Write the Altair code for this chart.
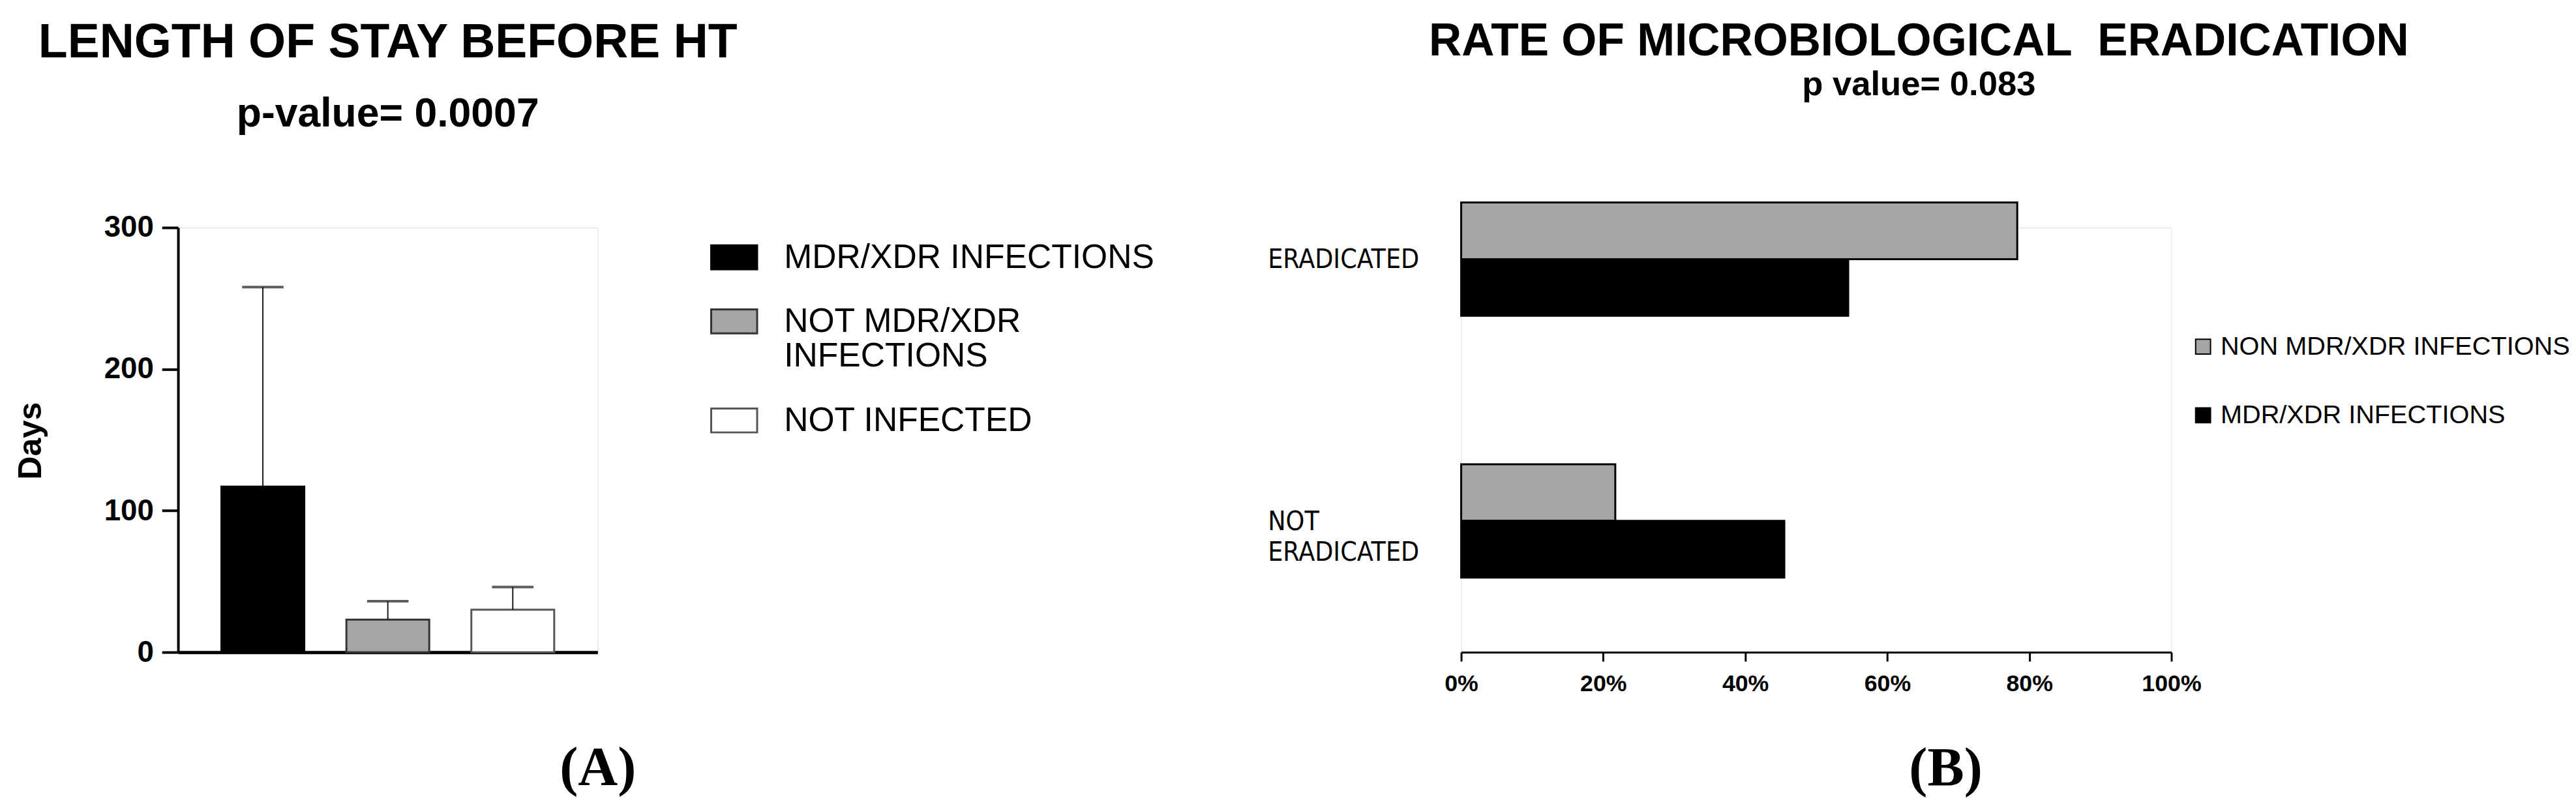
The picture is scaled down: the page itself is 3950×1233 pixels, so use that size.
import altair as alt
import pandas as pd

# ---------------- Panel A data ----------------
groups_a = ["MDR/XDR INFECTIONS", "NOT MDR/XDR INFECTIONS", "NOT INFECTED"]
mean_days = [117, 23, 30]
sd_days = [141, 13, 16]
fills_a = ["#000000", "#a5a5a5", "#ffffff"]
strokes_a = ["#000000", "#333333", "#555555"]
ticks_a = [0, 100, 200, 300]

# ---------------- Panel B data ----------------
outcomes_b = ["ERADICATED", "NOT ERADICATED"]
series_b = ["NON MDR/XDR INFECTIONS", "MDR/XDR INFECTIONS"]
non_mdr_b = [0.783, 0.217]
mdr_b = [0.545, 0.455]
fills_b = ["#a5a5a5", "#000000"]
ticks_b = [0, 0.2, 0.4, 0.6, 0.8, 1.0]

SANS = "Liberation Sans, Arial, sans-serif"
SERIF = "Liberation Serif, Times New Roman, serif"
COND = "DejaVu Sans Condensed, DejaVu Sans, sans-serif"

df_a = pd.DataFrame({"group": groups_a, "mean": mean_days, "sd": sd_days})
df_a["upper"] = df_a["mean"] + df_a["sd"]

rows = []
for i, o in enumerate(outcomes_b):
    rows.append({"outcome": o, "series": series_b[0], "value": non_mdr_b[i]})
    rows.append({"outcome": o, "series": series_b[1], "value": mdr_b[i]})
df_b = pd.DataFrame(rows)

PLOT_H = 656

# ---------------- Panel A ----------------
leg_a = alt.Legend(
    title=None, orient="none", legendX=822, legendY=9, padding=0,
    symbolType="M-1,-0.52H1V0.52H-1Z", symbolSize=5041, symbolStrokeWidth=3,
    labelFont=SANS, labelFontSize=52, labelColor="black", labelOffset=40,
    labelLimit=1000, rowPadding=36,
    labelExpr="datum.label == 'NOT MDR/XDR INFECTIONS' ? ['NOT MDR/XDR', 'INFECTIONS'] : datum.label",
)

x_a = alt.X(
    "group:N", sort=groups_a,
    scale=alt.Scale(paddingInner=0.337, paddingOuter=0.347),
    axis=alt.Axis(
        labels=False, ticks=False, domainWidth=5, domainColor="black",
        title="(A)", titleFont=SERIF, titleFontSize=85, titleFontWeight="bold",
        titleColor="black", titleX=648, titleY=205, titleBaseline="alphabetic",
        titleAlign="center",
    ),
)
y_a = alt.Y(
    "mean:Q", scale=alt.Scale(domain=[0, 300], nice=False),
    axis=alt.Axis(
        values=ticks_a, grid=False,
        title="Days", titleFont=SANS, titleFontSize=50, titleFontWeight="bold",
        titleColor="black", titleX=-212, titleY=329, titleBaseline="alphabetic",
        titleAngle=270, titleAlign="center",
        labelFont=SANS, labelFontSize=46, labelFontWeight="bold", labelColor="black",
        labelPadding=13, tickSize=25, tickWidth=4, tickColor="black",
        domainWidth=4, domainColor="black",
    ),
)

bars_a = alt.Chart(df_a).mark_bar(strokeWidth=3).encode(
    x=x_a, y=y_a,
    fill=alt.Fill("group:N", scale=alt.Scale(domain=groups_a, range=fills_a), legend=leg_a),
    stroke=alt.Stroke("group:N", scale=alt.Scale(domain=groups_a, range=strokes_a), legend=leg_a),
)
rule_a = alt.Chart(df_a).mark_rule(color="#1a1a1a", strokeWidth=2).encode(
    x=alt.X("group:N", sort=groups_a), y="mean:Q", y2="upper:Q"
)
cap_a = alt.Chart(df_a).mark_tick(color="#1a1a1a", thickness=4, size=64).encode(
    x=alt.X("group:N", sort=groups_a), y="upper:Q"
)

chart_a = alt.layer(bars_a, rule_a, cap_a).properties(
    width=648, height=PLOT_H,
    title=alt.TitleParams(
        text="LENGTH OF STAY BEFORE HT", subtitle="p-value= 0.0007",
        font=SANS, fontSize=74, fontWeight="bold", color="black",
        subtitleFont=SANS, subtitleFontSize=63, subtitleFontWeight="bold",
        subtitleColor="black", subtitlePadding=41, anchor="middle",
        frame="group", offset=119,
    ),
)

# ---------------- Panel B ----------------
leg_b = alt.Legend(
    title=None, orient="none", legendX=1126, legendY=164, padding=0,
    symbolType="square", symbolSize=529, symbolStrokeColor="black",
    symbolStrokeWidth=2, labelFont=SANS, labelFontSize=40, labelColor="black",
    labelOffset=7, labelLimit=1000, rowPadding=66,
)

x_b = alt.X(
    "value:Q", scale=alt.Scale(domain=[0, 1], nice=False),
    axis=alt.Axis(
        values=ticks_b, format="%", grid=False, labelFlush=False,
        labelFont=SANS, labelFontSize=36, labelFontWeight="bold", labelColor="black",
        labelPadding=18, tickSize=14, tickWidth=3, tickColor="black",
        domainWidth=3, domainColor="black",
        title="(B)", titleFont=SERIF, titleFontSize=85, titleFontWeight="bold",
        titleColor="black", titleX=748, titleY=206, titleBaseline="alphabetic",
        titleAlign="center",
    ),
)
# the category band extends above the plot top (bars sit higher than panel A's axis top)
y_b = alt.Y(
    "outcome:N", sort=outcomes_b,
    scale=alt.Scale(paddingInner=0.567, paddingOuter=0.285, range=[-154, PLOT_H]),
    axis=alt.Axis(
        title=None, domain=False, ticks=False, labelAlign="left",
        labelBaseline="top", labelPadding=299, labelOffset=-18,
        labelFont=COND, labelFontSize=41, labelColor="black",
        labelLineHeight=48, labelLimit=1000,
        labelExpr="datum.label == 'NOT ERADICATED' ? ['NOT', 'ERADICATED'] : datum.label",
    ),
)

chart_b = alt.Chart(df_b).mark_bar(stroke="black", strokeWidth=3).encode(
    x=x_b, y=y_b,
    yOffset=alt.YOffset("series:N", sort=series_b,
                        scale=alt.Scale(paddingInner=0, paddingOuter=0)),
    fill=alt.Fill("series:N", scale=alt.Scale(domain=series_b, range=fills_b), legend=leg_b),
).properties(
    width=1097, height=PLOT_H,
    title=alt.TitleParams(
        text="RATE OF MICROBIOLOGICAL\u00a0 ERADICATION", subtitle="p value= 0.083",
        font=SANS, fontSize=70, fontWeight="bold", color="black",
        subtitleFont=SANS, subtitleFontSize=53, subtitleFontWeight="bold",
        subtitleColor="black", subtitlePadding=5, anchor="middle",
        frame="bounds", offset=152,
    ),
)

chart = (
    alt.hconcat(chart_a, chart_b, spacing=173)
    .resolve_scale(fill="independent", stroke="independent")
    .resolve_legend(fill="independent", stroke="independent")
    .properties(padding={"left": 14, "top": 16, "right": 0, "bottom": 0})
    .configure_view(stroke=None)
    .configure(background="white")
)

chart.save("out.html", embed_options={"renderer": "svg", "actions": False})
